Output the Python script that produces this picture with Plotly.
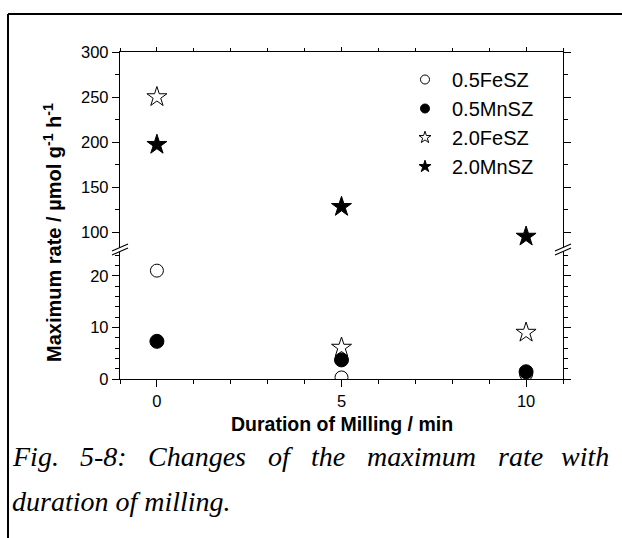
import plotly.graph_objects as go

# ---------------- data ----------------
milling_min = [0, 5, 10]
series_names = ["0.5FeSZ", "0.5MnSZ", "2.0FeSZ", "2.0MnSZ"]
fe05 = [21.0, 0.3, 0.9]
mn05 = [7.3, 3.7, 1.4]
fe20 = [250.0, 6.1, 9.0]
mn20 = [197.0, 128.0, 95.0]
series_values = [fe05, mn05, fe20, mn20]
symbols = ["circle-open", "circle", "star-open", "star"]
sizes = [13, 14, 15, 15]
legend_sizes = [9, 9, 9, 9]

lower_ticks = [0, 10, 20]
upper_ticks = [100, 150, 200, 250, 300]
x_ticks = [0, 5, 10]

# ---------------- geometry (pixels) ----------------
W, H = 622, 538
L, R, T, B = 120, 563, 52, 379
BRK = 250
pw, ph = R - L, B - T


def px(x):
    return (x - L) / pw


def py(y):
    return (B - y) / ph


split = py(BRK)
FONT = "Liberation Sans, Arial, sans-serif"

fig = go.Figure()

for name, vals, sym, sz, lsz in zip(series_names, series_values, symbols, sizes, legend_sizes):
    mk = dict(symbol=sym, size=sz, color="black", line=dict(color="black", width=1))
    fig.add_trace(go.Scatter(x=milling_min, y=vals, mode="markers", marker=mk,
                             xaxis="x", yaxis="y", showlegend=False, name=name))
    fig.add_trace(go.Scatter(x=milling_min, y=vals, mode="markers", marker=mk,
                             xaxis="x2", yaxis="y2", showlegend=False, name=name))
    fig.add_trace(go.Scatter(x=[None], y=[None], mode="markers", name=name,
                             marker=dict(symbol=sym, size=lsz, color="black",
                                         line=dict(color="black", width=1)),
                             xaxis="x", yaxis="y", showlegend=True))

axis_common = dict(showline=True, linecolor="black", linewidth=1.4, ticks="outside",
                   ticklen=7, tickwidth=1, tickcolor="black", showgrid=False, zeroline=False,
                   tickfont=dict(family=FONT, size=16.5, color="black"))

fig.update_layout(
    width=W, height=H,
    margin=dict(l=L, r=W - R, t=T, b=H - B),
    paper_bgcolor="white", plot_bgcolor="white",
    xaxis=dict(**axis_common, range=[-1, 11], tickvals=x_ticks, anchor="y", side="bottom",
               minor=dict(dtick=1, tick0=0, ticks="outside", ticklen=4, tickcolor="black")),
    xaxis2=dict(**{**axis_common, "ticklen": 4}, range=[-1, 11], tickvals=x_ticks, anchor="y2",
                side="top", showticklabels=False, matches="x",
                minor=dict(dtick=1, tick0=0, ticks="outside", ticklen=3, tickcolor="black")),
    yaxis=dict(**axis_common, range=[0, 25], tickvals=lower_ticks, domain=[0, split],
               anchor="x", mirror="allticks",
               minor=dict(dtick=2, tick0=0, ticks="outside", ticklen=4, tickcolor="black")),
    yaxis2=dict(**axis_common, range=[80, 300], tickvals=upper_ticks, domain=[split, 1],
                anchor="x2", mirror="allticks",
                minor=dict(dtick=25, tick0=0, ticks="outside", ticklen=4, tickcolor="black")),
    legend=dict(x=px(398), y=py(60), xanchor="left", yanchor="top",
                bgcolor="rgba(0,0,0,0)", font=dict(family=FONT, size=20, color="black"),
                itemwidth=44, tracegroupgap=0),
    showlegend=True,
)

shapes = []
# break marks on left and right axes
for xc in (L, R):
    shapes.append(dict(type="path", xref="paper", yref="paper", xsizemode="pixel",
                       ysizemode="pixel", xanchor=px(xc), yanchor=py(BRK),
                       path="M -8 -1 L 8 6 L 8 2 L -8 -5 Z",
                       fillcolor="white", line=dict(width=0)))
    for dy in (-1, -5):
        shapes.append(dict(type="line", xref="paper", yref="paper", xsizemode="pixel",
                           ysizemode="pixel", xanchor=px(xc), yanchor=py(BRK),
                           x0=-8, x1=8, y0=dy, y1=dy + 7,
                           line=dict(color="black", width=1.2)))
# outer frame (top and left)
shapes.append(dict(type="line", xref="paper", yref="paper", x0=px(8), x1=px(624),
                   y0=py(14), y1=py(14), line=dict(color="black", width=2)))
shapes.append(dict(type="line", xref="paper", yref="paper", x0=px(8), x1=px(8),
                   y0=py(14), y1=py(540), line=dict(color="black", width=2)))
fig.update_layout(shapes=shapes)

ann = []
ann.append(dict(text="<b>Duration of Milling / min</b>", xref="paper", yref="paper",
                x=px(342), y=py(424), showarrow=False, xanchor="center", yanchor="middle",
                font=dict(family=FONT, size=19.5, color="black")))
ann.append(dict(text="<b>Maximum rate / µmol g<sup>-1</sup> h<sup>-1</sup></b>", xref="paper",
                yref="paper", x=px(53), y=py(233), showarrow=False, textangle=-90,
                xanchor="center", yanchor="middle",
                font=dict(family=FONT, size=20, color="black")))

SERIF = "Times New Roman, Liberation Serif, serif"
cap_size = 28
line1 = ["Fig.", "5-8:", "Changes", "of", "the", "maximum", "rate", "with"]
# Times italic advance widths (per 1000 em) for justification
wid = {"F": 611, "i": 278, "g": 500, ".": 250, "5": 500, "-": 333, "8": 500, ":": 333,
       "C": 667, "h": 500, "a": 500, "n": 500, "e": 444, "s": 389, "o": 500, "f": 278,
       "t": 278, "m": 722, "x": 444, "u": 500, "r": 389, "w": 667}
wpx = [sum(wid[c] for c in w) / 1000 * cap_size for w in line1]
left, right = 10, 611
gap = (right - left - sum(wpx)) / (len(line1) - 1)
xpos = left
for i, (w, ww) in enumerate(zip(line1, wpx)):
    last = i == len(line1) - 1
    ann.append(dict(text="<i>" + w + "</i>", xref="paper", yref="paper",
                    x=px(right if last else xpos), y=py(457), showarrow=False,
                    xanchor="right" if last else "left", yanchor="middle",
                    font=dict(family=SERIF, size=cap_size, color="black")))
    xpos += ww + gap
ann.append(dict(text="<i>duration of milling.</i>", xref="paper", yref="paper", x=px(left),
                y=py(501), showarrow=False, xanchor="left", yanchor="middle",
                font=dict(family=SERIF, size=cap_size, color="black")))
fig.update_layout(annotations=ann)

fig.write_html("out.html")
